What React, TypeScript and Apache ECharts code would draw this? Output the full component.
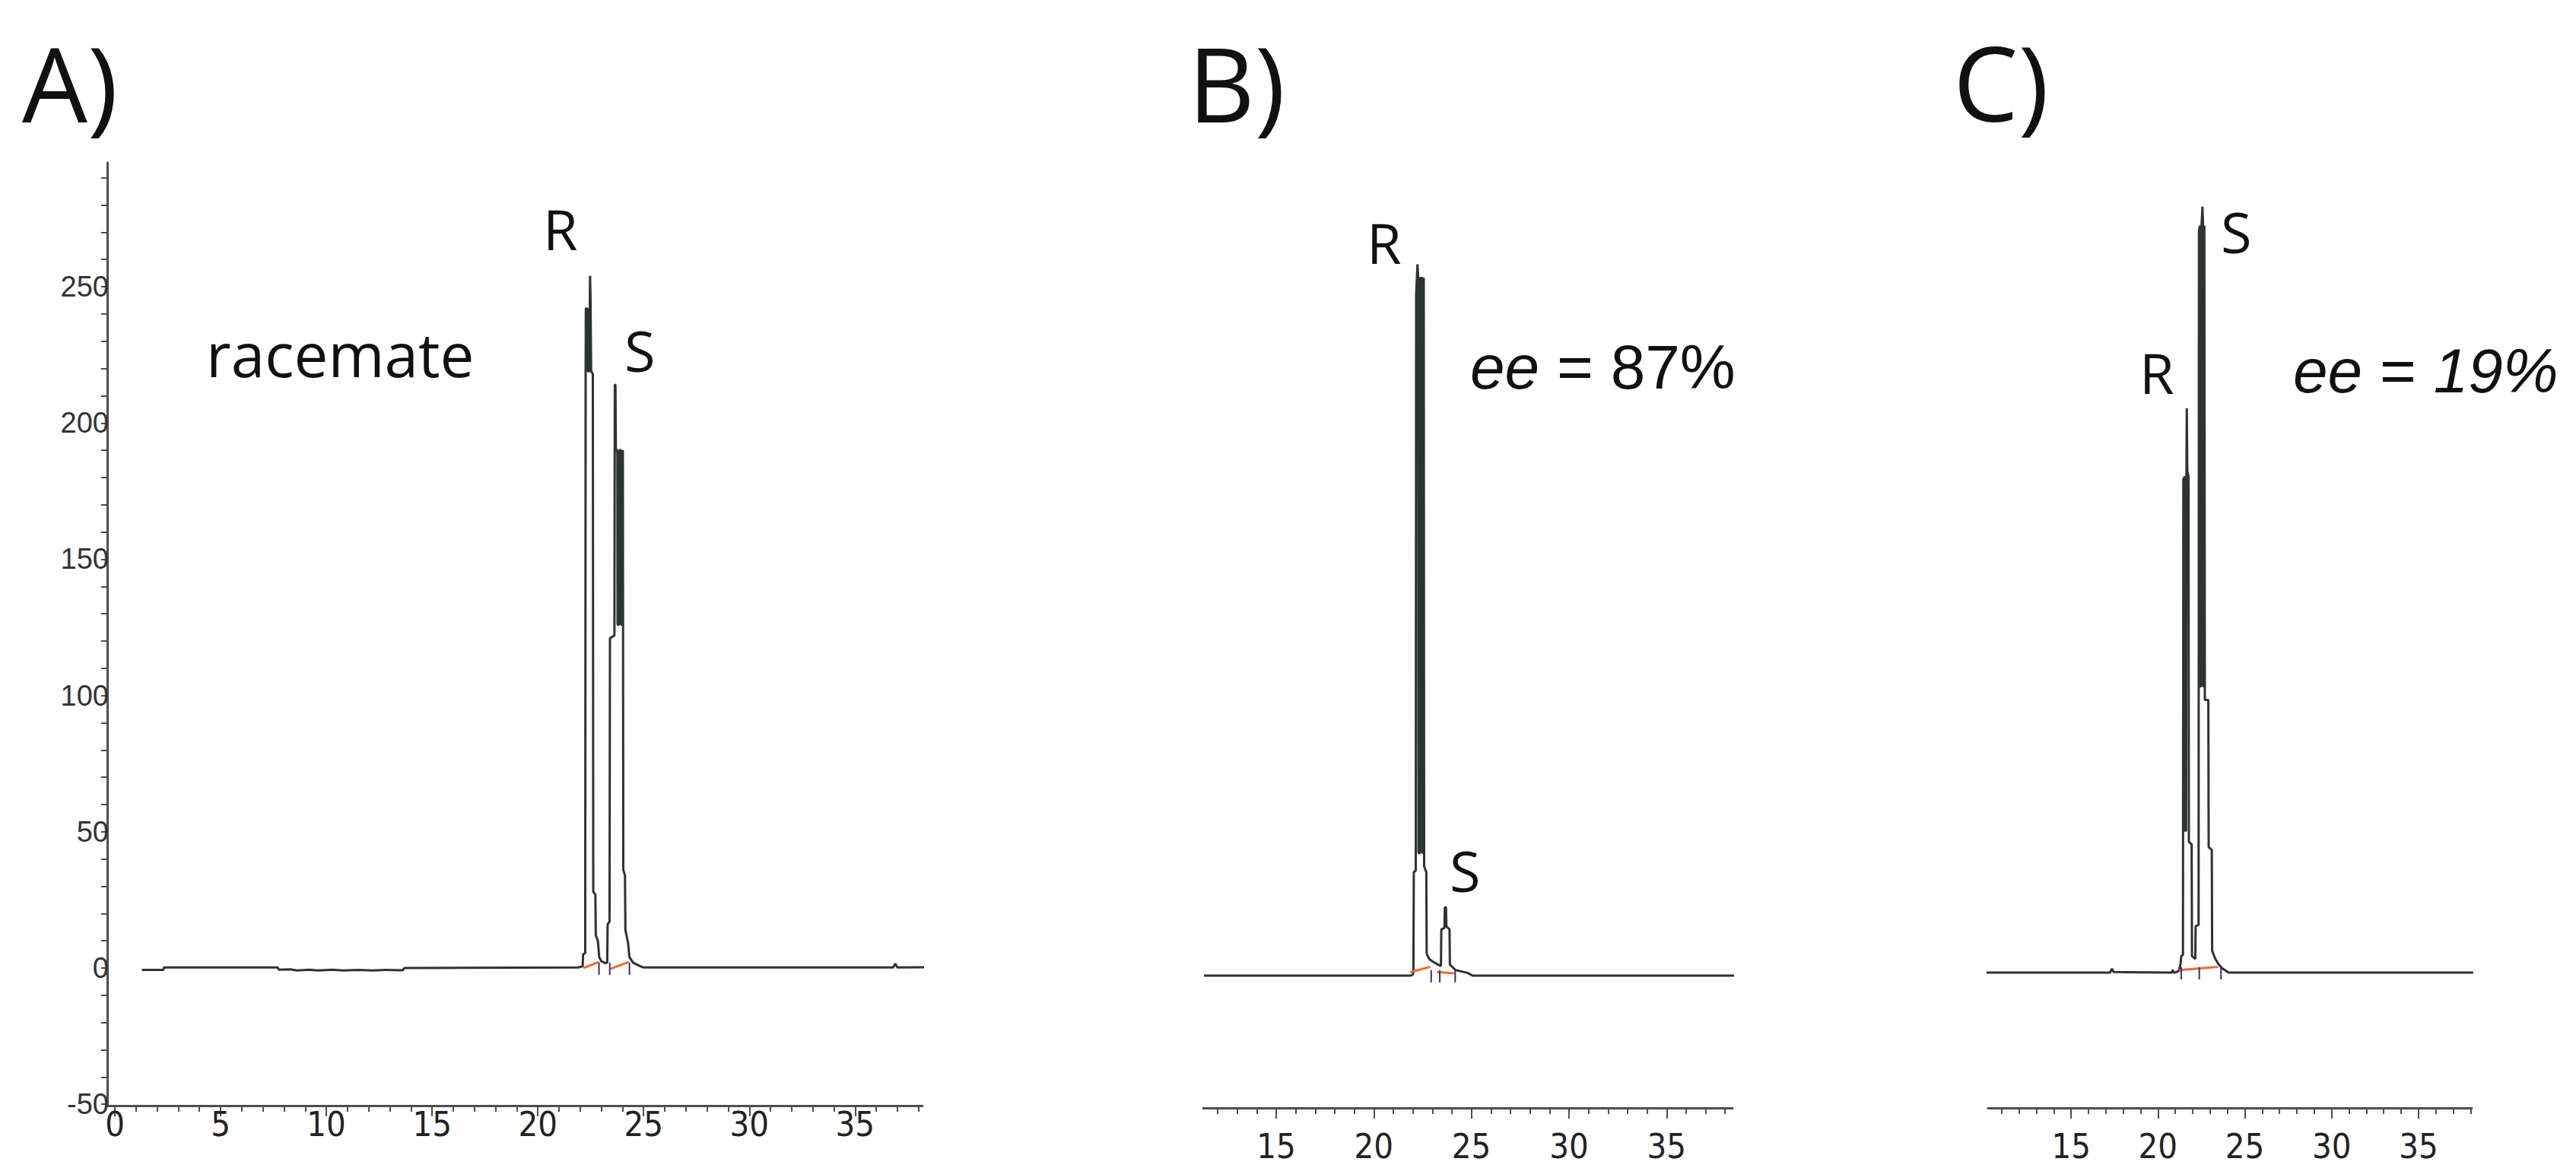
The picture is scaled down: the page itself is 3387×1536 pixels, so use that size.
import React, { useEffect, useRef } from 'react';
import * as echarts from 'echarts';

// ---------- tick / label values ----------
const A_X_LABELS = [0, 5, 10, 15, 20, 25, 30, 35];
const A_X_MINOR = [0, 1, 2, 3, 4, 5, 6, 7, 8, 9, 10, 11, 12, 13, 14, 15, 16, 17, 18, 19, 20, 21, 22, 23, 24, 25, 26, 27, 28, 29, 30, 31, 32, 33, 34, 35, 36, 37, 38];
const A_Y_LABELS = [-50, 0, 50, 100, 150, 200, 250];
const A_Y_TICKS = [-50, -40, -30, -20, -10, 0, 10, 20, 30, 40, 50, 60, 70, 80, 90, 100, 110, 120, 130, 140, 150, 160, 170, 180, 190, 200, 210, 220, 230, 240, 250, 260, 270, 280, 290];
const BC_X_LABELS = [15, 20, 25, 30, 35];
const B_X_MINOR = [12, 13, 14, 15, 16, 17, 18, 19, 20, 21, 22, 23, 24, 25, 26, 27, 28, 29, 30, 31, 32, 33, 34, 35, 36, 37, 38];
const C_X_MINOR = [11, 12, 13, 14, 15, 16, 17, 18, 19, 20, 21, 22, 23, 24, 25, 26, 27, 28, 29, 30, 31, 32, 33, 34, 35, 36, 37, 38];

// ---------- chromatogram A (racemate) ----------
const A_TRACE: number[][] = [
  [1.28, -0.7], [2.3, -0.7], [2.32, 0.2], [7.7, 0.2], [7.75, -0.6], [8.3, -0.5], [8.6, -0.9], [9.2, -0.6], [9.6, -0.9],
  [10.3, -0.6], [10.8, -0.9], [11.5, -0.7], [12.2, -0.9], [12.8, -0.7], [13.6, -0.8], [13.7, 0], [21.9, 0.2],
  // R
  [22.12, 0.6], [22.14, 5], [22.24, 5.5], [22.26, 218], [22.27, 242], [22.35, 242], [22.36, 219], [22.45, 219],
  [22.46, 246], [22.47, 254], [22.49, 246], [22.52, 219], [22.6, 218], [22.62, 28], [22.72, 27], [22.74, 12],
  [22.84, 10], [22.9, 4], [23.0, 2.5], [23.2, 1.8],
  // S
  [23.28, 2], [23.3, 16], [23.39, 17], [23.41, 121], [23.62, 122], [23.64, 214], [23.67, 214], [23.69, 190],
  [23.76, 190], [23.77, 126], [23.85, 126], [23.86, 190], [23.94, 190], [23.95, 126], [24.01, 126], [24.02, 190],
  [24.03, 190], [24.04, 36], [24.12, 34], [24.14, 14], [24.27, 9], [24.33, 4], [24.5, 2], [24.8, 0.8], [25.0, 0.2],
  [36.8, 0.2], [36.9, 1.6], [37.0, 0.2], [38.55, 0.3],
];
const A_BASELINE_1 = [[22.15, 0], [22.89, 2.2]];
const A_BASELINE_2 = [[23.43, -0.3], [24.29, 2.2]];
const A_MARKS = [22.89, 23.4, 24.33];

// ---------- chromatogram B (ee = 87%) ----------
const B_TRACE: number[][] = [
  [11.3, 0], [21.9, 0],
  // R
  [22.0, 0.4], [22.03, 1.5], [22.05, 38], [22.15, 38.5], [22.17, 250], [22.22, 258], [22.24, 261], [22.26, 258],
  [22.28, 256], [22.29, 45], [22.38, 45], [22.39, 256], [22.49, 256], [22.5, 45], [22.55, 45], [22.56, 256],
  [22.57, 256], [22.58, 40], [22.69, 38], [22.71, 8], [22.85, 6], [23.05, 5], [23.3, 4],
  // S
  [23.44, 3.5], [23.46, 17], [23.62, 17.5], [23.64, 25], [23.7, 25], [23.72, 18], [23.88, 17], [23.9, 4],
  [24.05, 3], [24.2, 2], [24.5, 1.5], [24.8, 1], [25.06, 0], [39.05, 0],
];
const B_BASELINE_1 = [[21.88, 1.3], [22.89, 3.2]];
const B_BASELINE_2 = [[23.23, 1.3], [24.12, 0.8]];
const B_MARKS = [22.94, 23.38, 24.17];

// ---------- chromatogram C (ee = 19%) ----------
const C_TRACE: number[][] = [
  [9.18, 0], [17.25, 0], [17.35, 1.4], [17.45, 0.2], [20.8, 0], [20.85, 1], [20.9, 0], [21.0, 0],
  // R
  [21.2, 0.6], [21.3, 3], [21.34, 6], [21.44, 6.5], [21.46, 181], [21.55, 182], [21.56, 52], [21.62, 52],
  [21.64, 182], [21.66, 207], [21.69, 184], [21.76, 182], [21.78, 48], [21.94, 47], [21.96, 6], [22.15, 5],
  // S
  [22.17, 17], [22.34, 17.5], [22.36, 272], [22.42, 274], [22.43, 105], [22.5, 105], [22.51, 274], [22.56, 281],
  [22.6, 274], [22.61, 105], [22.66, 105], [22.67, 274], [22.69, 274], [22.7, 100], [22.9, 100], [22.92, 46],
  [23.1, 45], [23.12, 8], [23.3, 5], [23.5, 3], [23.7, 1.5], [24.0, 0.3], [24.07, 0], [38.19, 0],
];
const C_BASELINE_1 = [[21.22, 0.9], [23.45, 2.1]];
const C_MARKS = [21.34, 22.38, 23.63];

const MARK_RANGE = [-2.5, 2];

const TRACE = '#2d3232';
const AXIS = '#4e4e4e';
const LABEL = '#222222';
const ORANGE = '#f26a2e';
const PURPLE = '#3a2a78';
const NARROW = "'Liberation Sans Narrow', 'Arial Narrow', 'DejaVu Sans Condensed', 'Liberation Sans', sans-serif";
const SANS = "'Liberation Sans', Arial, sans-serif";
const OPEN = "'Open Sans', 'Noto Sans', sans-serif";

function xAxesFor(grid: number, min: number, max: number, minor: number[], major: number[], labels: number[], margin: number) {
  return [
    {
      gridIndex: grid, type: 'value', min, max, position: 'bottom',
      axisLine: { show: true, onZero: false, lineStyle: { color: AXIS, width: 3 } },
      axisTick: { show: true, length: 8, customValues: minor, lineStyle: { color: AXIS, width: 2 } },
      axisLabel: { show: true, customValues: labels, margin, fontSize: 45, fontFamily: NARROW, color: LABEL },
      splitLine: { show: false },
    },
    {
      gridIndex: grid, type: 'value', min, max, position: 'bottom',
      axisLine: { show: false, onZero: false },
      axisTick: { show: true, length: 14, customValues: major, lineStyle: { color: AXIS, width: 2 } },
      axisLabel: { show: false },
      splitLine: { show: false },
    },
  ];
}

function traceSeries(data: number[][], xi: number, yi: number) {
  return {
    type: 'line', data, xAxisIndex: xi, yAxisIndex: yi, symbol: 'none', showSymbol: false, clip: false, silent: true,
    lineStyle: { color: TRACE, width: 3 }, z: 3,
  };
}
function baseSeries(data: number[][], xi: number, yi: number) {
  return {
    type: 'line', data, xAxisIndex: xi, yAxisIndex: yi, symbol: 'none', showSymbol: false, clip: false, silent: true,
    lineStyle: { color: ORANGE, width: 3 }, z: 4,
  };
}
function markSeries(xs: number[], xi: number, yi: number) {
  return xs.map((x) => ({
    type: 'line', data: [[x, MARK_RANGE[0]], [x, MARK_RANGE[1]]], xAxisIndex: xi, yAxisIndex: yi, symbol: 'none',
    showSymbol: false, clip: false, silent: true, lineStyle: { color: PURPLE, width: 2 }, z: 4,
  }));
}

function txt(text: string, x: number, y: number, fontSize: number, family: string) {
  return {
    type: 'text', x, y, z: 10, silent: true,
    style: { text, font: `${fontSize}px ${family}`, fill: '#111111', align: 'left', verticalAlign: 'middle' },
  };
}

function eeText(num: string, numItalic: boolean, x: number, y: number) {
  const it = `italic 82px ${SANS}`;
  const up = `normal 82px ${SANS}`;
  return {
    type: 'text', x, y, z: 10, silent: true,
    style: {
      text: `{i|ee}{n| = }{${numItalic ? 'i' : 'n'}|${num}}`,
      font: up, fill: '#111111', align: 'left', verticalAlign: 'middle',
      rich: { i: { font: it, fill: '#111111' }, n: { font: up, fill: '#111111' } },
    },
  };
}

export default function App() {
  const ref = useRef<HTMLDivElement>(null);
  useEffect(() => {
    if (!ref.current) return;
    const chart = echarts.init(ref.current, null, { renderer: 'svg' });
    const option: any = {
      animation: false,
      backgroundColor: '#ffffff',
      grid: [
        { left: 141, top: 214, width: 1072, height: 1240, containLabel: false, outerBoundsMode: 'none' },
        { left: 1582, top: 222, width: 696, height: 1235, containLabel: false, outerBoundsMode: 'none' },
        { left: 2614, top: 218, width: 636, height: 1239, containLabel: false, outerBoundsMode: 'none' },
      ],
      xAxis: [
        ...xAxesFor(0, -0.36, 38.19, A_X_MINOR, A_X_LABELS, A_X_LABELS, 2),
        ...xAxesFor(1, 11.26, 38.38, B_X_MINOR, BC_X_LABELS, BC_X_LABELS, 28),
        ...xAxesFor(2, 10.22, 38.07, C_X_MINOR, BC_X_LABELS, BC_X_LABELS, 28),
      ],
      yAxis: [
        {
          gridIndex: 0, type: 'value', min: -50.5, max: 295.5,
          axisLine: { show: true, onZero: false, lineStyle: { color: AXIS, width: 3 } },
          axisTick: { show: true, length: 8, customValues: A_Y_TICKS, lineStyle: { color: AXIS, width: 2 } },
          axisLabel: { show: true, customValues: A_Y_LABELS, margin: -2, fontSize: 38, fontFamily: SANS, color: '#333333' },
          splitLine: { show: false },
        },
        { gridIndex: 1, type: 'value', min: -48.55, max: 296, show: false, splitLine: { show: false } },
        { gridIndex: 2, type: 'value', min: -49.67, max: 296, show: false, splitLine: { show: false } },
      ],
      series: [
        traceSeries(A_TRACE, 0, 0),
        baseSeries(A_BASELINE_1, 0, 0),
        baseSeries(A_BASELINE_2, 0, 0),
        ...markSeries(A_MARKS, 0, 0),
        traceSeries(B_TRACE, 2, 1),
        baseSeries(B_BASELINE_1, 2, 1),
        baseSeries(B_BASELINE_2, 2, 1),
        ...markSeries(B_MARKS, 2, 1),
        traceSeries(C_TRACE, 4, 2),
        baseSeries(C_BASELINE_1, 4, 2),
        ...markSeries(C_MARKS, 4, 2),
      ],
      graphic: [
        txt('A)', 29, 108, 136, OPEN),
        txt('B)', 1562, 108, 136, OPEN),
        txt('C)', 2568, 107, 136, OPEN),
        txt('racemate', 271, 464, 80, OPEN),
        txt('R', 714, 300, 74, OPEN),
        txt('S', 821, 460, 74, OPEN),
        txt('R', 1797, 318, 74, OPEN),
        txt('S', 1906, 1144, 74, OPEN),
        txt('R', 2813, 489, 74, OPEN),
        txt('S', 2920, 304, 74, OPEN),
        eeText('87%', false, 1933, 482),
        eeText('19%', true, 3015, 487),
      ],
    };
    chart.setOption(option);
    return () => chart.dispose();
  }, []);
  return (
    <div
      ref={ref}
      style={{ position: 'absolute', left: 0, top: 0, width: 3387, height: 1536, background: '#ffffff' }}
    />
  );
}
